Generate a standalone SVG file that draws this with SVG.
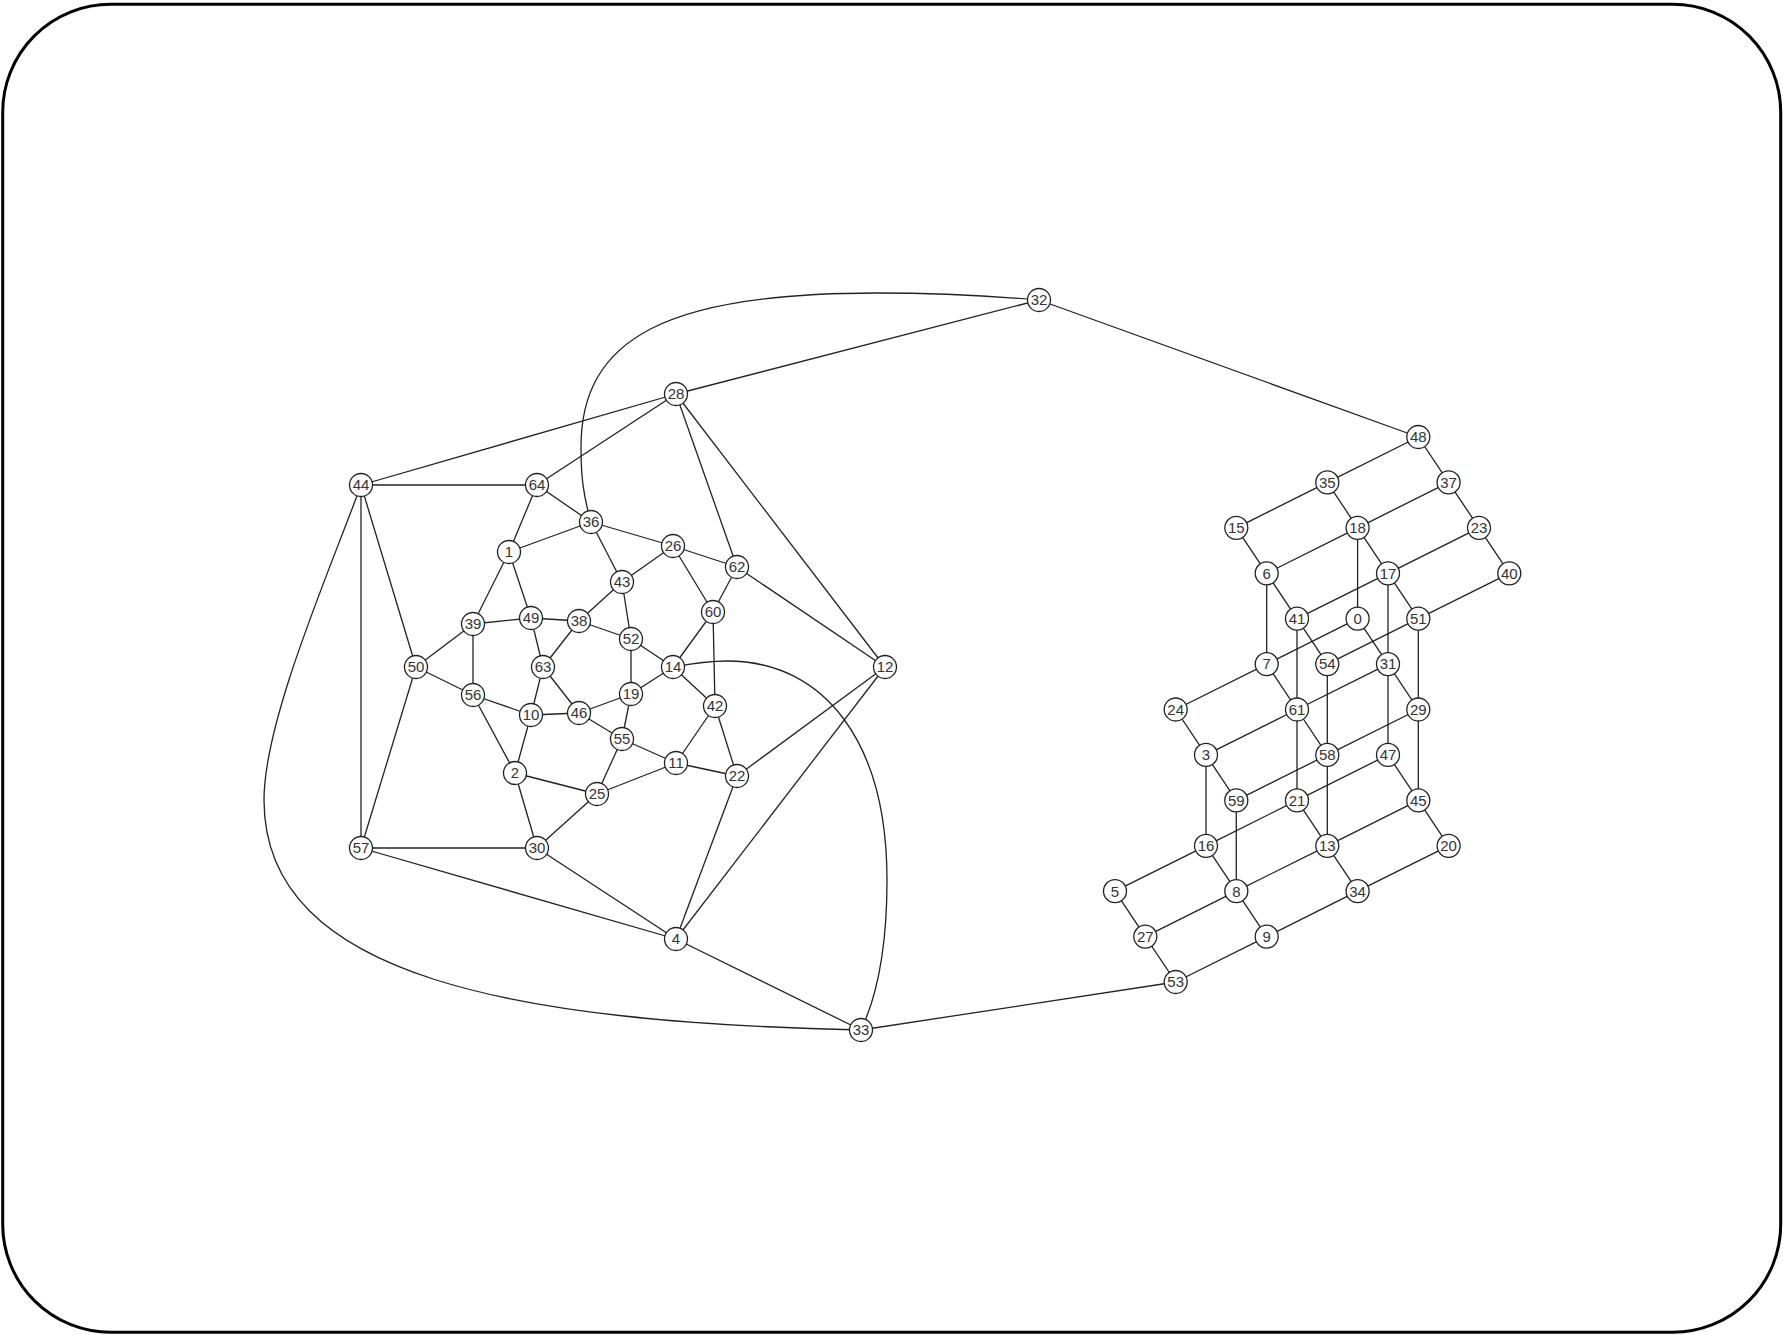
<svg xmlns="http://www.w3.org/2000/svg" width="1783" height="1335" viewBox="0 0 1783 1335">
<style>
.frame{fill:#fff;stroke:#000;stroke-width:3}
.edges line,.edges path{stroke:#222;stroke-width:1.3;fill:none}
.node circle{fill:#fff;stroke:#222;stroke-width:1.3}
.node text{font-family:"Liberation Sans",Arial,sans-serif;font-size:15px;fill:#333;text-anchor:middle}
</style>
<rect class="frame" x="2.7" y="4.3" width="1778" height="1328" rx="108" ry="108"/>
<g id="connectors" class="edges">
<line x1="1039" y1="300" x2="676" y2="394"/>
<path d="M1039,300 C980,295 920,293 877,293 C669,293 581,337 581,447 C581,475 583,495 591,522"/>
<line x1="1039" y1="300" x2="1418.3" y2="437"/>
<line x1="676" y1="394" x2="361" y2="485"/>
<line x1="676" y1="394" x2="537" y2="485"/>
<line x1="676" y1="394" x2="737" y2="567"/>
<line x1="676" y1="394" x2="885" y2="667"/>
<line x1="361" y1="485" x2="537" y2="485"/>
<line x1="361" y1="485" x2="416" y2="667"/>
<line x1="361" y1="485" x2="361" y2="848"/>
<path d="M361,485 C330,570 264,720 264,800 C264,980 520,1022 861,1030"/>
<line x1="537" y1="485" x2="591" y2="522"/>
<line x1="537" y1="485" x2="509" y2="552"/>
<line x1="591" y1="522" x2="509" y2="552"/>
<line x1="591" y1="522" x2="673" y2="546"/>
<line x1="591" y1="522" x2="622" y2="582"/>
<line x1="509" y1="552" x2="473" y2="624"/>
<line x1="509" y1="552" x2="531" y2="618"/>
<line x1="673" y1="546" x2="622" y2="582"/>
<line x1="673" y1="546" x2="737" y2="567"/>
<line x1="673" y1="546" x2="713" y2="612"/>
<line x1="737" y1="567" x2="713" y2="612"/>
<line x1="737" y1="567" x2="885" y2="667"/>
<line x1="622" y1="582" x2="579" y2="621"/>
<line x1="622" y1="582" x2="631" y2="639"/>
<line x1="713" y1="612" x2="673" y2="667"/>
<line x1="713" y1="612" x2="715" y2="706"/>
<line x1="473" y1="624" x2="531" y2="618"/>
<line x1="473" y1="624" x2="416" y2="667"/>
<line x1="473" y1="624" x2="473" y2="695"/>
<line x1="531" y1="618" x2="579" y2="621"/>
<line x1="531" y1="618" x2="543" y2="667"/>
<line x1="579" y1="621" x2="631" y2="639"/>
<line x1="579" y1="621" x2="543" y2="667"/>
<line x1="631" y1="639" x2="673" y2="667"/>
<line x1="631" y1="639" x2="631" y2="694"/>
<line x1="416" y1="667" x2="473" y2="695"/>
<line x1="416" y1="667" x2="361" y2="848"/>
<line x1="543" y1="667" x2="531" y2="715"/>
<line x1="543" y1="667" x2="579" y2="713"/>
<line x1="673" y1="667" x2="631" y2="694"/>
<line x1="673" y1="667" x2="715" y2="706"/>
<path d="M673,667 C700,662 715,661 727,661 C826,661 887,744 887,880 C887,940 880,990 861,1030"/>
<line x1="473" y1="695" x2="531" y2="715"/>
<line x1="473" y1="695" x2="515" y2="773"/>
<line x1="631" y1="694" x2="579" y2="713"/>
<line x1="631" y1="694" x2="622" y2="739"/>
<line x1="531" y1="715" x2="579" y2="713"/>
<line x1="531" y1="715" x2="515" y2="773"/>
<line x1="579" y1="713" x2="622" y2="739"/>
<line x1="715" y1="706" x2="676" y2="763"/>
<line x1="715" y1="706" x2="737" y2="776"/>
<line x1="622" y1="739" x2="676" y2="763"/>
<line x1="622" y1="739" x2="597" y2="794"/>
<line x1="676" y1="763" x2="737" y2="776"/>
<line x1="676" y1="763" x2="597" y2="794"/>
<line x1="515" y1="773" x2="597" y2="794"/>
<line x1="515" y1="773" x2="537" y2="848"/>
<line x1="737" y1="776" x2="885" y2="667"/>
<line x1="737" y1="776" x2="676" y2="939"/>
<line x1="885" y1="667" x2="676" y2="939"/>
<line x1="597" y1="794" x2="537" y2="848"/>
<line x1="361" y1="848" x2="537" y2="848"/>
<line x1="361" y1="848" x2="676" y2="939"/>
<line x1="537" y1="848" x2="676" y2="939"/>
<line x1="676" y1="939" x2="861" y2="1030"/>
<line x1="861" y1="1030" x2="1175.7" y2="982"/>
<line x1="1418.3" y1="437" x2="1327.3" y2="482.4"/>
<line x1="1418.3" y1="437" x2="1448.6" y2="482.4"/>
<line x1="1327.3" y1="482.4" x2="1236.3" y2="527.8"/>
<line x1="1327.3" y1="482.4" x2="1357.6" y2="527.8"/>
<line x1="1448.6" y1="482.4" x2="1357.6" y2="527.8"/>
<line x1="1448.6" y1="482.4" x2="1479" y2="527.8"/>
<line x1="1236.3" y1="527.8" x2="1266.7" y2="573.3"/>
<line x1="1357.6" y1="527.8" x2="1266.7" y2="573.3"/>
<line x1="1357.6" y1="527.8" x2="1388" y2="573.3"/>
<line x1="1357.6" y1="527.8" x2="1357.6" y2="618.7"/>
<line x1="1479" y1="527.8" x2="1388" y2="573.3"/>
<line x1="1479" y1="527.8" x2="1509.3" y2="573.3"/>
<line x1="1266.7" y1="573.3" x2="1297" y2="618.7"/>
<line x1="1266.7" y1="573.3" x2="1266.7" y2="664.1"/>
<line x1="1388" y1="573.3" x2="1297" y2="618.7"/>
<line x1="1388" y1="573.3" x2="1418.3" y2="618.7"/>
<line x1="1388" y1="573.3" x2="1388" y2="664.1"/>
<line x1="1509.3" y1="573.3" x2="1418.3" y2="618.7"/>
<line x1="1297" y1="618.7" x2="1327.3" y2="664.1"/>
<line x1="1297" y1="618.7" x2="1297" y2="709.5"/>
<line x1="1357.6" y1="618.7" x2="1266.7" y2="664.1"/>
<line x1="1357.6" y1="618.7" x2="1388" y2="664.1"/>
<line x1="1418.3" y1="618.7" x2="1327.3" y2="664.1"/>
<line x1="1418.3" y1="618.7" x2="1418.3" y2="709.5"/>
<line x1="1266.7" y1="664.1" x2="1175.7" y2="709.5"/>
<line x1="1266.7" y1="664.1" x2="1297" y2="709.5"/>
<line x1="1327.3" y1="664.1" x2="1327.3" y2="754.9"/>
<line x1="1388" y1="664.1" x2="1297" y2="709.5"/>
<line x1="1388" y1="664.1" x2="1418.3" y2="709.5"/>
<line x1="1388" y1="664.1" x2="1388" y2="754.9"/>
<line x1="1175.7" y1="709.5" x2="1206" y2="754.9"/>
<line x1="1297" y1="709.5" x2="1206" y2="754.9"/>
<line x1="1297" y1="709.5" x2="1327.3" y2="754.9"/>
<line x1="1297" y1="709.5" x2="1297" y2="800.4"/>
<line x1="1418.3" y1="709.5" x2="1327.3" y2="754.9"/>
<line x1="1418.3" y1="709.5" x2="1418.3" y2="800.4"/>
<line x1="1206" y1="754.9" x2="1236.3" y2="800.4"/>
<line x1="1206" y1="754.9" x2="1206" y2="845.8"/>
<line x1="1327.3" y1="754.9" x2="1236.3" y2="800.4"/>
<line x1="1327.3" y1="754.9" x2="1327.3" y2="845.8"/>
<line x1="1388" y1="754.9" x2="1297" y2="800.4"/>
<line x1="1388" y1="754.9" x2="1418.3" y2="800.4"/>
<line x1="1236.3" y1="800.4" x2="1236.3" y2="891.2"/>
<line x1="1297" y1="800.4" x2="1206" y2="845.8"/>
<line x1="1297" y1="800.4" x2="1327.3" y2="845.8"/>
<line x1="1418.3" y1="800.4" x2="1327.3" y2="845.8"/>
<line x1="1418.3" y1="800.4" x2="1448.6" y2="845.8"/>
<line x1="1206" y1="845.8" x2="1115" y2="891.2"/>
<line x1="1206" y1="845.8" x2="1236.3" y2="891.2"/>
<line x1="1327.3" y1="845.8" x2="1236.3" y2="891.2"/>
<line x1="1327.3" y1="845.8" x2="1357.6" y2="891.2"/>
<line x1="1448.6" y1="845.8" x2="1357.6" y2="891.2"/>
<line x1="1115" y1="891.2" x2="1145.3" y2="936.6"/>
<line x1="1236.3" y1="891.2" x2="1145.3" y2="936.6"/>
<line x1="1236.3" y1="891.2" x2="1266.7" y2="936.6"/>
<line x1="1357.6" y1="891.2" x2="1266.7" y2="936.6"/>
<line x1="1145.3" y1="936.6" x2="1175.7" y2="982"/>
<line x1="1266.7" y1="936.6" x2="1175.7" y2="982"/>
</g>
<g id="n32" class="node"><circle cx="1039" cy="300" r="11.5"/><text x="1039" y="305.3">32</text></g>
<g id="n28" class="node"><circle cx="676" cy="394" r="11.5"/><text x="676" y="399.3">28</text></g>
<g id="n44" class="node"><circle cx="361" cy="485" r="11.5"/><text x="361" y="490.3">44</text></g>
<g id="n64" class="node"><circle cx="537" cy="485" r="11.5"/><text x="537" y="490.3">64</text></g>
<g id="n36" class="node"><circle cx="591" cy="522" r="11.5"/><text x="591" y="527.3">36</text></g>
<g id="n1" class="node"><circle cx="509" cy="552" r="11.5"/><text x="509" y="557.3">1</text></g>
<g id="n26" class="node"><circle cx="673" cy="546" r="11.5"/><text x="673" y="551.3">26</text></g>
<g id="n62" class="node"><circle cx="737" cy="567" r="11.5"/><text x="737" y="572.3">62</text></g>
<g id="n43" class="node"><circle cx="622" cy="582" r="11.5"/><text x="622" y="587.3">43</text></g>
<g id="n60" class="node"><circle cx="713" cy="612" r="11.5"/><text x="713" y="617.3">60</text></g>
<g id="n39" class="node"><circle cx="473" cy="624" r="11.5"/><text x="473" y="629.3">39</text></g>
<g id="n49" class="node"><circle cx="531" cy="618" r="11.5"/><text x="531" y="623.3">49</text></g>
<g id="n38" class="node"><circle cx="579" cy="621" r="11.5"/><text x="579" y="626.3">38</text></g>
<g id="n52" class="node"><circle cx="631" cy="639" r="11.5"/><text x="631" y="644.3">52</text></g>
<g id="n50" class="node"><circle cx="416" cy="667" r="11.5"/><text x="416" y="672.3">50</text></g>
<g id="n63" class="node"><circle cx="543" cy="667" r="11.5"/><text x="543" y="672.3">63</text></g>
<g id="n14" class="node"><circle cx="673" cy="667" r="11.5"/><text x="673" y="672.3">14</text></g>
<g id="n12" class="node"><circle cx="885" cy="667" r="11.5"/><text x="885" y="672.3">12</text></g>
<g id="n56" class="node"><circle cx="473" cy="695" r="11.5"/><text x="473" y="700.3">56</text></g>
<g id="n19" class="node"><circle cx="631" cy="694" r="11.5"/><text x="631" y="699.3">19</text></g>
<g id="n10" class="node"><circle cx="531" cy="715" r="11.5"/><text x="531" y="720.3">10</text></g>
<g id="n46" class="node"><circle cx="579" cy="713" r="11.5"/><text x="579" y="718.3">46</text></g>
<g id="n42" class="node"><circle cx="715" cy="706" r="11.5"/><text x="715" y="711.3">42</text></g>
<g id="n55" class="node"><circle cx="622" cy="739" r="11.5"/><text x="622" y="744.3">55</text></g>
<g id="n11" class="node"><circle cx="676" cy="763" r="11.5"/><text x="676" y="768.3">11</text></g>
<g id="n2" class="node"><circle cx="515" cy="773" r="11.5"/><text x="515" y="778.3">2</text></g>
<g id="n22" class="node"><circle cx="737" cy="776" r="11.5"/><text x="737" y="781.3">22</text></g>
<g id="n25" class="node"><circle cx="597" cy="794" r="11.5"/><text x="597" y="799.3">25</text></g>
<g id="n57" class="node"><circle cx="361" cy="848" r="11.5"/><text x="361" y="853.3">57</text></g>
<g id="n30" class="node"><circle cx="537" cy="848" r="11.5"/><text x="537" y="853.3">30</text></g>
<g id="n4" class="node"><circle cx="676" cy="939" r="11.5"/><text x="676" y="944.3">4</text></g>
<g id="n33" class="node"><circle cx="861" cy="1030" r="11.5"/><text x="861" y="1035.3">33</text></g>
<g id="n48" class="node"><circle cx="1418.3" cy="437" r="11.5"/><text x="1418.3" y="442.3">48</text></g>
<g id="n35" class="node"><circle cx="1327.3" cy="482.4" r="11.5"/><text x="1327.3" y="487.7">35</text></g>
<g id="n37" class="node"><circle cx="1448.6" cy="482.4" r="11.5"/><text x="1448.6" y="487.7">37</text></g>
<g id="n15" class="node"><circle cx="1236.3" cy="527.8" r="11.5"/><text x="1236.3" y="533.1">15</text></g>
<g id="n18" class="node"><circle cx="1357.6" cy="527.8" r="11.5"/><text x="1357.6" y="533.1">18</text></g>
<g id="n23" class="node"><circle cx="1479" cy="527.8" r="11.5"/><text x="1479" y="533.1">23</text></g>
<g id="n6" class="node"><circle cx="1266.7" cy="573.3" r="11.5"/><text x="1266.7" y="578.6">6</text></g>
<g id="n17" class="node"><circle cx="1388" cy="573.3" r="11.5"/><text x="1388" y="578.6">17</text></g>
<g id="n40" class="node"><circle cx="1509.3" cy="573.3" r="11.5"/><text x="1509.3" y="578.6">40</text></g>
<g id="n41" class="node"><circle cx="1297" cy="618.7" r="11.5"/><text x="1297" y="624">41</text></g>
<g id="n0" class="node"><circle cx="1357.6" cy="618.7" r="11.5"/><text x="1357.6" y="624">0</text></g>
<g id="n51" class="node"><circle cx="1418.3" cy="618.7" r="11.5"/><text x="1418.3" y="624">51</text></g>
<g id="n7" class="node"><circle cx="1266.7" cy="664.1" r="11.5"/><text x="1266.7" y="669.4">7</text></g>
<g id="n54" class="node"><circle cx="1327.3" cy="664.1" r="11.5"/><text x="1327.3" y="669.4">54</text></g>
<g id="n31" class="node"><circle cx="1388" cy="664.1" r="11.5"/><text x="1388" y="669.4">31</text></g>
<g id="n24" class="node"><circle cx="1175.7" cy="709.5" r="11.5"/><text x="1175.7" y="714.8">24</text></g>
<g id="n61" class="node"><circle cx="1297" cy="709.5" r="11.5"/><text x="1297" y="714.8">61</text></g>
<g id="n29" class="node"><circle cx="1418.3" cy="709.5" r="11.5"/><text x="1418.3" y="714.8">29</text></g>
<g id="n3" class="node"><circle cx="1206" cy="754.9" r="11.5"/><text x="1206" y="760.2">3</text></g>
<g id="n58" class="node"><circle cx="1327.3" cy="754.9" r="11.5"/><text x="1327.3" y="760.2">58</text></g>
<g id="n47" class="node"><circle cx="1388" cy="754.9" r="11.5"/><text x="1388" y="760.2">47</text></g>
<g id="n59" class="node"><circle cx="1236.3" cy="800.4" r="11.5"/><text x="1236.3" y="805.7">59</text></g>
<g id="n21" class="node"><circle cx="1297" cy="800.4" r="11.5"/><text x="1297" y="805.7">21</text></g>
<g id="n45" class="node"><circle cx="1418.3" cy="800.4" r="11.5"/><text x="1418.3" y="805.7">45</text></g>
<g id="n16" class="node"><circle cx="1206" cy="845.8" r="11.5"/><text x="1206" y="851.1">16</text></g>
<g id="n13" class="node"><circle cx="1327.3" cy="845.8" r="11.5"/><text x="1327.3" y="851.1">13</text></g>
<g id="n20" class="node"><circle cx="1448.6" cy="845.8" r="11.5"/><text x="1448.6" y="851.1">20</text></g>
<g id="n5" class="node"><circle cx="1115" cy="891.2" r="11.5"/><text x="1115" y="896.5">5</text></g>
<g id="n8" class="node"><circle cx="1236.3" cy="891.2" r="11.5"/><text x="1236.3" y="896.5">8</text></g>
<g id="n34" class="node"><circle cx="1357.6" cy="891.2" r="11.5"/><text x="1357.6" y="896.5">34</text></g>
<g id="n27" class="node"><circle cx="1145.3" cy="936.6" r="11.5"/><text x="1145.3" y="941.9">27</text></g>
<g id="n9" class="node"><circle cx="1266.7" cy="936.6" r="11.5"/><text x="1266.7" y="941.9">9</text></g>
<g id="n53" class="node"><circle cx="1175.7" cy="982" r="11.5"/><text x="1175.7" y="987.3">53</text></g>
</svg>
